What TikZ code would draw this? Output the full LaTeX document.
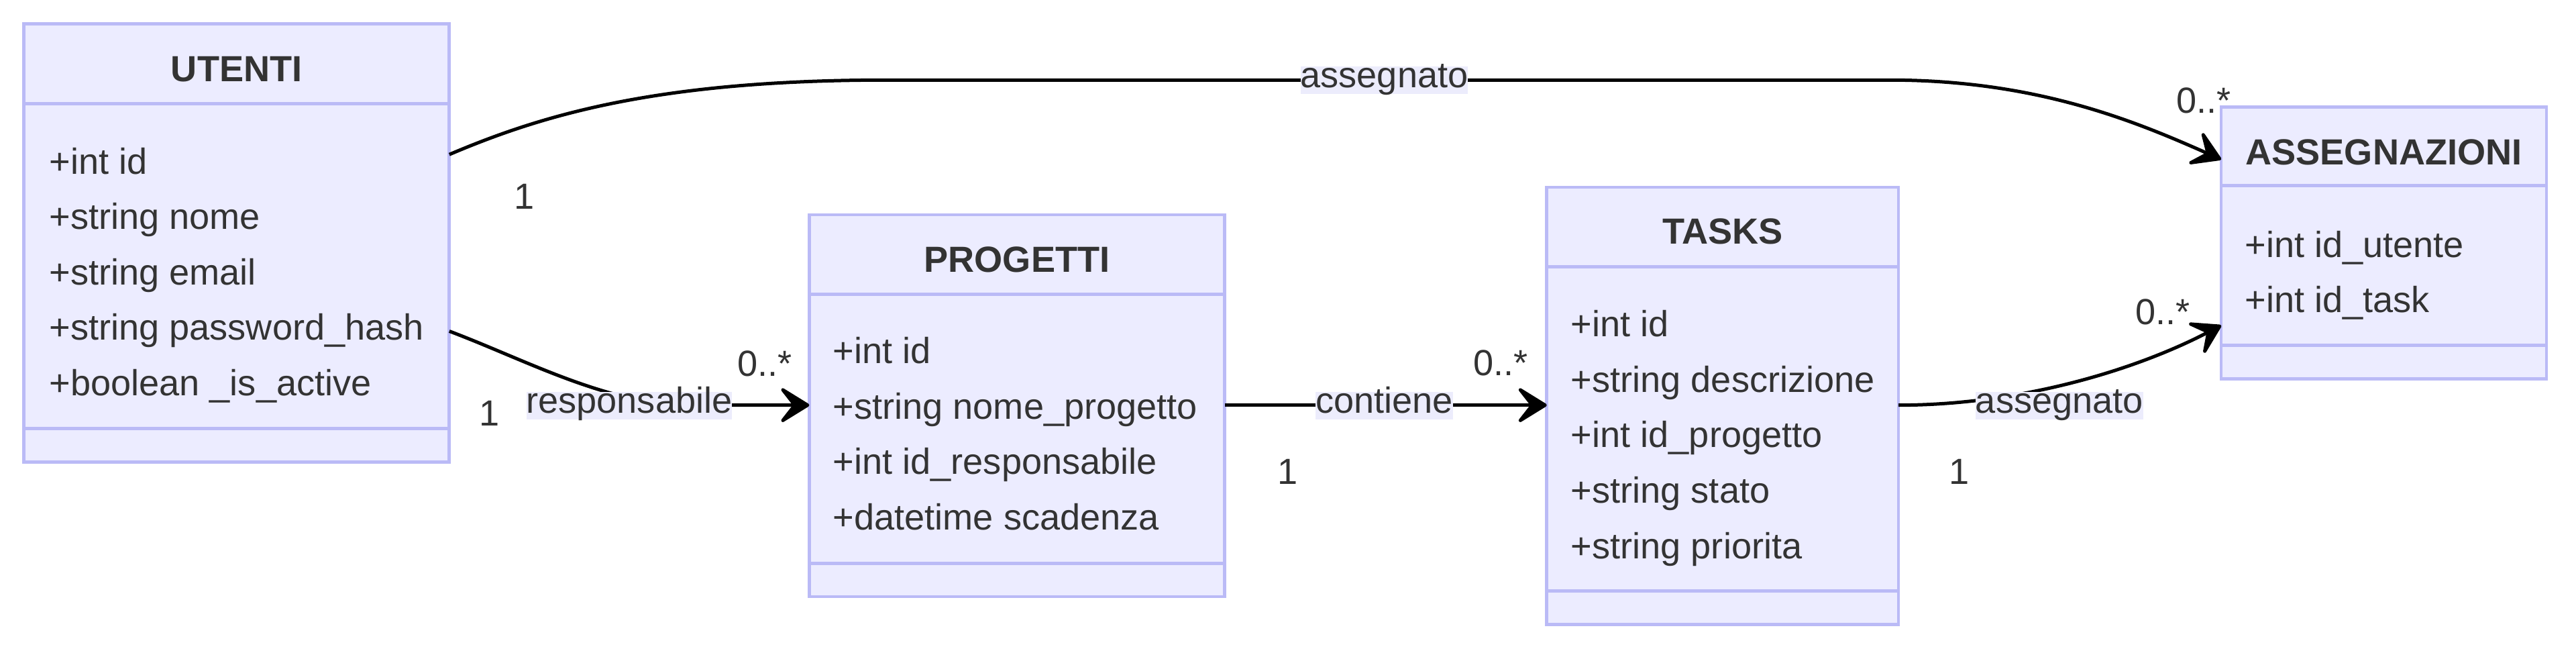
\documentclass[tikz,border=0pt]{standalone}
\usepackage{fontspec}
\setmainfont{Liberation Sans}
\usetikzlibrary{arrows.meta,fit}
\definecolor{boxfill}{RGB}{236,236,255}
\definecolor{boxline}{RGB}{186,186,246}
\definecolor{txt}{RGB}{51,51,51}
\definecolor{lblfill}{RGB}{236,236,252}
\begin{document}
\begin{tikzpicture}[x=0.02449cm, y=-0.02449cm,
  font=\fontsize{15.4pt}{18pt}\selectfont,
  classbox/.style={draw=boxline, fill=boxfill, line width=0.048cm, inner sep=0pt, outer sep=0pt},
  divider/.style={draw=boxline, line width=0.048cm},
  clstitle/.style={text=txt, font=\fontsize{15.4pt}{18pt}\selectfont\bfseries, anchor=base, inner sep=0pt},
  clsattr/.style={text=txt, anchor=base west, inner sep=0pt},
  multlbl/.style={text=txt, anchor=base, inner sep=0pt},
  elabel/.style={text=txt, fill=lblfill, inner xsep=0pt, inner ysep=0.12em, text height=0.78em, text depth=0.15em, anchor=center},
  conn/.style={draw=black, line width=0.05cm, -{Stealth[length=0.52cm,width=0.64cm,inset=0.25cm,round]}},
]
\useasboundingbox (0,0) rectangle (1568,396.08);

% UTENTI
\node[classbox, fit={(14.5,14.4) (273.5,281)}] (ut) {};
\draw[divider] (ut.west |- 0,63.2) -- (ut.east |- 0,63.2);
\draw[divider] (ut.west |- 0,260.6) -- (ut.east |- 0,260.6);
\node[clstitle] (ut-t) at (144,49.7) {UTENTI};
\node[clsattr] (ut-a1) at (29.8,105.8) {+int id};
\node[clsattr] (ut-a2) at (29.8,139.5) {+string nome};
\node[clsattr] (ut-a3) at (29.8,173.2) {+string email};
\node[clsattr] (ut-a4) at (29.8,206.9) {+string password\_hash};
\node[clsattr] (ut-a5) at (29.8,240.6) {+boolean \_is\_active};

% PROGETTI
\node[classbox, fit={(492.6,130.7) (745.5,363)}] (pr) {};
\draw[divider] (pr.west |- 0,179) -- (pr.east |- 0,179);
\draw[divider] (pr.west |- 0,342.7) -- (pr.east |- 0,342.7);
\node[clstitle] (pr-t) at (619,165.7) {PROGETTI};
\node[clsattr] (pr-a1) at (506.8,221.2) {+int id};
\node[clsattr] (pr-a2) at (506.8,254.9) {+string nome\_progetto};
\node[clsattr] (pr-a3) at (506.8,288.6) {+int id\_responsabile};
\node[clsattr] (pr-a4) at (506.8,322.3) {+datetime scadenza};

% TASKS
\node[classbox, fit={(941.5,113.9) (1155.6,380)}] (ta) {};
\draw[divider] (ta.west |- 0,162.2) -- (ta.east |- 0,162.2);
\draw[divider] (ta.west |- 0,359.4) -- (ta.east |- 0,359.4);
\node[clstitle] (ta-t) at (1048.5,148.4) {TASKS};
\node[clsattr] (ta-a1) at (956,204.8) {+int id};
\node[clsattr] (ta-a2) at (956,238.6) {+string descrizione};
\node[clsattr] (ta-a3) at (956,272.3) {+int id\_progetto};
\node[clsattr] (ta-a4) at (956,306) {+string stato};
\node[clsattr] (ta-a5) at (956,339.8) {+string priorita};

% ASSEGNAZIONI
\node[classbox, fit={(1352,65) (1550,230.5)}] (as) {};
\draw[divider] (as.west |- 0,113) -- (as.east |- 0,113);
\draw[divider] (as.west |- 0,210) -- (as.east |- 0,210);
\node[clstitle] (as-t) at (1451,100.2) {ASSEGNAZIONI};
\node[clsattr] (as-a1) at (1366.2,156.4) {+int id\_utente};
\node[clsattr] (as-a2) at (1366.2,190) {+int id\_task};

% connector end points
\coordinate (ut-o1) at (ut.east |- 0,94);
\coordinate (ut-o2) at (ut.east |- 0,201.5);
\coordinate (pr-i) at (pr.west |- 0,246.5);
\coordinate (pr-o) at (pr.east |- 0,246.5);
\coordinate (ta-i) at (ta.west |- 0,246.5);
\coordinate (ta-o) at (ta.east |- 0,246.5);
\coordinate (as-i1) at (as.west |- 0,97);
\coordinate (as-i2) at (as.west |- 0,198);

% connectors
\draw[conn] (ut-o1) .. controls (330,70) and (400,48.7) .. (540,48.7) -- (1150,48.7) .. controls (1240,48.7) and (1300,74) .. (as-i1);
\draw[conn] (ut-o2) .. controls (320,219) and (370,246.5) .. (420,246.5) -- (pr-i);
\draw[conn] (pr-o) -- (ta-i);
\draw[conn] (ta-o) .. controls (1230,246.5) and (1300,225) .. (as-i2);

% edge labels
\node[elabel] (l1) at (842.6,48.7) {assegnato};
\node[elabel] (l2) at (383,247) {responsabile};
\node[elabel] (l3) at (842.6,247) {contiene};
\node[elabel] (l4) at (1253.5,247) {assegnato};

% multiplicities
\node[multlbl] (m1) at (319.3,127) {1};
\node[multlbl] (m2) at (1341.5,69) {0..*};
\node[multlbl] (m3) at (298,259) {1};
\node[multlbl] (m4) at (465.6,229) {0..*};
\node[multlbl] (m5) at (783.8,294.6) {1};
\node[multlbl] (m6) at (913.5,228.5) {0..*};
\node[multlbl] (m7) at (1192.7,294.6) {1};
\node[multlbl] (m8) at (1316.6,197.6) {0..*};
\end{tikzpicture}
\end{document}
